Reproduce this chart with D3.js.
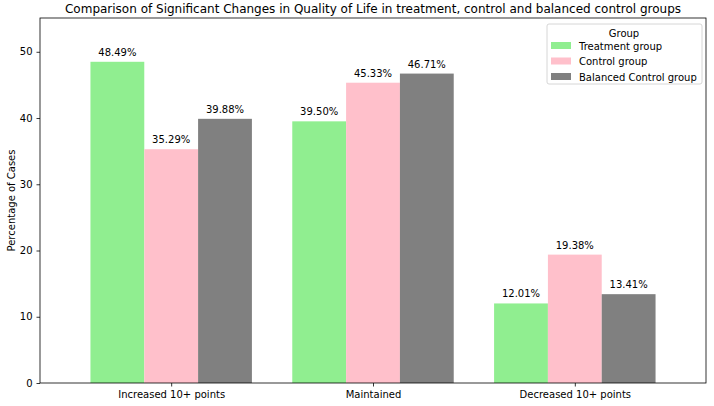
<!DOCTYPE html>
<html>
<head>
<meta charset="utf-8">
<script src="https://cdn.jsdelivr.net/npm/d3@7"></script>
<style>
  body { margin: 0; background: #fff; }
  text { font-family: "DejaVu Sans", sans-serif; fill: #000; }
</style>
</head>
<body>
<svg width="714" height="406"></svg>
<script>
const categories = ["Increased 10+ points", "Maintained", "Decreased 10+ points"];
const groups = ["Treatment group", "Control group", "Balanced Control group"];
const colors = ["#90ee90", "#ffc0cb", "#808080"];
const treatment = [48.49, 39.50, 12.01];
const control = [35.29, 45.33, 19.38];
const balanced = [39.88, 46.71, 13.41];
const yTicks = [0, 10, 20, 30, 40, 50];

const series = [treatment, control, balanced];

const svg = d3.select("svg");
const pLeft = 40, pRight = 706, pTop = 18, pBottom = 383;

const x = d3.scaleLinear().domain([-0.65, 2.65]).range([pLeft, pRight]);
const y = d3.scaleLinear().domain([0, 55.1]).range([pBottom, pTop]);
const barW = 0.8 / 3;

// bars
series.forEach((vals, s) => {
    svg.selectAll(".bar" + s)
        .data(vals)
        .enter()
        .append("rect")
        .attr("x", (d, i) => x(i - 0.4 + s * barW))
        .attr("y", d => y(d))
        .attr("width", x(barW) - x(0))
        .attr("height", d => y(0) - y(d))
        .attr("fill", colors[s]);

    svg.selectAll(".lab" + s)
        .data(vals)
        .enter()
        .append("text")
        .attr("x", (d, i) => x(i - 0.4 + (s + 0.5) * barW))
        .attr("y", d => y(d) - 6)
        .attr("text-anchor", "middle")
        .style("font-size", "10px")
        .text(d => d.toFixed(2) + "%");
});

// axes
const xAxis = svg.append("g")
    .attr("transform", `translate(0,${pBottom})`)
    .call(d3.axisBottom(x).tickValues([0, 1, 2]).tickFormat(i => categories[i]).tickSizeOuter(0).tickSize(3.5).tickPadding(4));
const yAxis = svg.append("g")
    .attr("transform", `translate(${pLeft},0)`)
    .call(d3.axisLeft(y).tickValues(yTicks).tickSizeOuter(0).tickSize(3.5).tickPadding(4));
[xAxis, yAxis].forEach(g => {
    g.selectAll("text").style("font-size", "10px").style("font-family", "DejaVu Sans, sans-serif");
    g.select(".domain").remove();
    g.selectAll("line").attr("stroke", "#000").attr("stroke-width", 0.8);
});

// frame
svg.append("rect")
    .attr("x", pLeft).attr("y", pTop)
    .attr("width", pRight - pLeft).attr("height", pBottom - pTop)
    .attr("fill", "none").attr("stroke", "#000").attr("stroke-width", 0.8);

// title and y label
svg.append("text")
    .attr("x", (pLeft + pRight) / 2).attr("y", 13)
    .attr("text-anchor", "middle")
    .style("font-size", "12px")
    .text("Comparison of Significant Changes in Quality of Life in treatment, control and balanced control groups");

svg.append("text")
    .attr("transform", `translate(15,${(pTop + pBottom) / 2}) rotate(-90)`)
    .attr("text-anchor", "middle")
    .style("font-size", "10px")
    .text("Percentage of Cases");

// legend
const lg = svg.append("g");
lg.append("rect")
    .attr("x", 547).attr("y", 24).attr("width", 155).attr("height", 60)
    .attr("rx", 2)
    .attr("fill", "#fff").attr("fill-opacity", 0.8)
    .attr("stroke", "#ccc").attr("stroke-width", 0.8);
lg.append("text")
    .attr("x", 624).attr("y", 37)
    .attr("text-anchor", "middle")
    .style("font-size", "10px")
    .text("Group");
groups.forEach((g, i) => {
    lg.append("rect")
        .attr("x", 551).attr("y", 42 + i * 15.5)
        .attr("width", 20).attr("height", 7)
        .attr("fill", colors[i]);
    lg.append("text")
        .attr("x", 579).attr("y", 49.5 + i * 15.5)
        .style("font-size", "10px")
        .text(g);
});
</script>
</body>
</html>
